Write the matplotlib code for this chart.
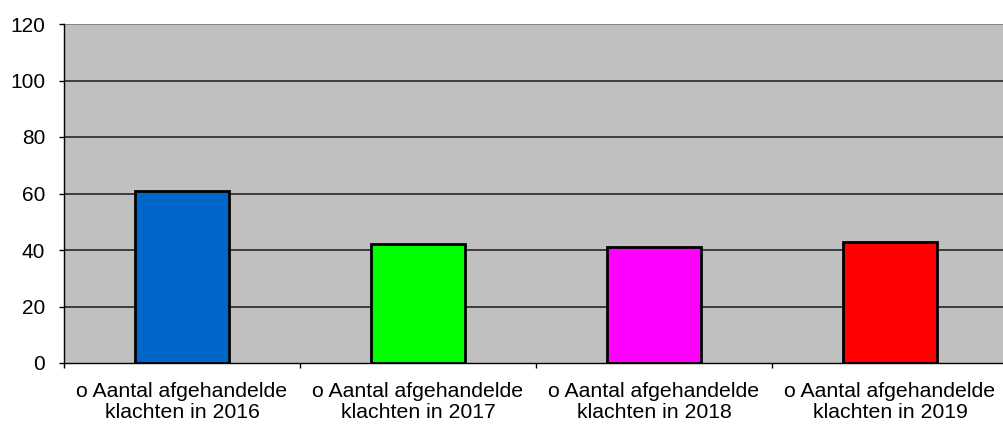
import matplotlib
matplotlib.use("Agg")
import matplotlib.pyplot as plt
import numpy as np

plt.rcParams['font.family'] = ['Liberation Sans', 'DejaVu Sans']

CATEGORIES = [
    "o Aantal afgehandelde\nklachten in 2016",
    "o Aantal afgehandelde\nklachten in 2017",
    "o Aantal afgehandelde\nklachten in 2018",
    "o Aantal afgehandelde\nklachten in 2019",
]
VALUES = [61, 42, 41, 43]
BAR_COLORS = ['#0066CC', '#00FF00', '#FF00FF', '#FF0000']
Y_TICKS = [0, 20, 40, 60, 80, 100, 120]


def main():
    fig = plt.figure(figsize=(10.04, 4.24), dpi=100)
    ax = fig.add_axes([64 / 1004, 1 - 363 / 424, 944 / 1004, 339 / 424])
    ax.set_facecolor('#C0C0C0')

    x = np.arange(len(CATEGORIES))
    ax.bar(x, VALUES, width=0.40, color=BAR_COLORS, edgecolor='black',
           linewidth=2, zorder=3)

    ax.set_xlim(-0.5, len(CATEGORIES) - 0.5)
    ax.set_ylim(0, 120)
    ax.set_yticks(Y_TICKS)
    ax.set_yticklabels([str(t) for t in Y_TICKS], fontsize=15)
    for t in Y_TICKS[1:]:
        col = '#808080' if t == 120 else '#333333'
        ax.axhline(t, color=col, linewidth=1.3, zorder=1)

    # category labels centered, ticks at the boundaries
    ax.set_xticks(x)
    ax.set_xticklabels(CATEGORIES, fontsize=15.3, linespacing=1.1)
    ax.tick_params(axis='x', length=0, pad=14)
    ax.set_xticks(np.arange(len(CATEGORIES) + 1) - 0.5, minor=True)
    ax.tick_params(axis='x', which='minor', length=3.6, width=1, color='black')
    ax.tick_params(axis='y', length=3.6, width=1, color='black', pad=10)

    for side in ['top', 'right']:
        ax.spines[side].set_visible(False)
    ax.spines['left'].set_color('black')
    ax.spines['bottom'].set_color('black')
    ax.spines['left'].set_linewidth(1)
    ax.spines['bottom'].set_linewidth(1)

    fig.savefig("out.png", dpi=100)


if __name__ == "__main__":
    main()
